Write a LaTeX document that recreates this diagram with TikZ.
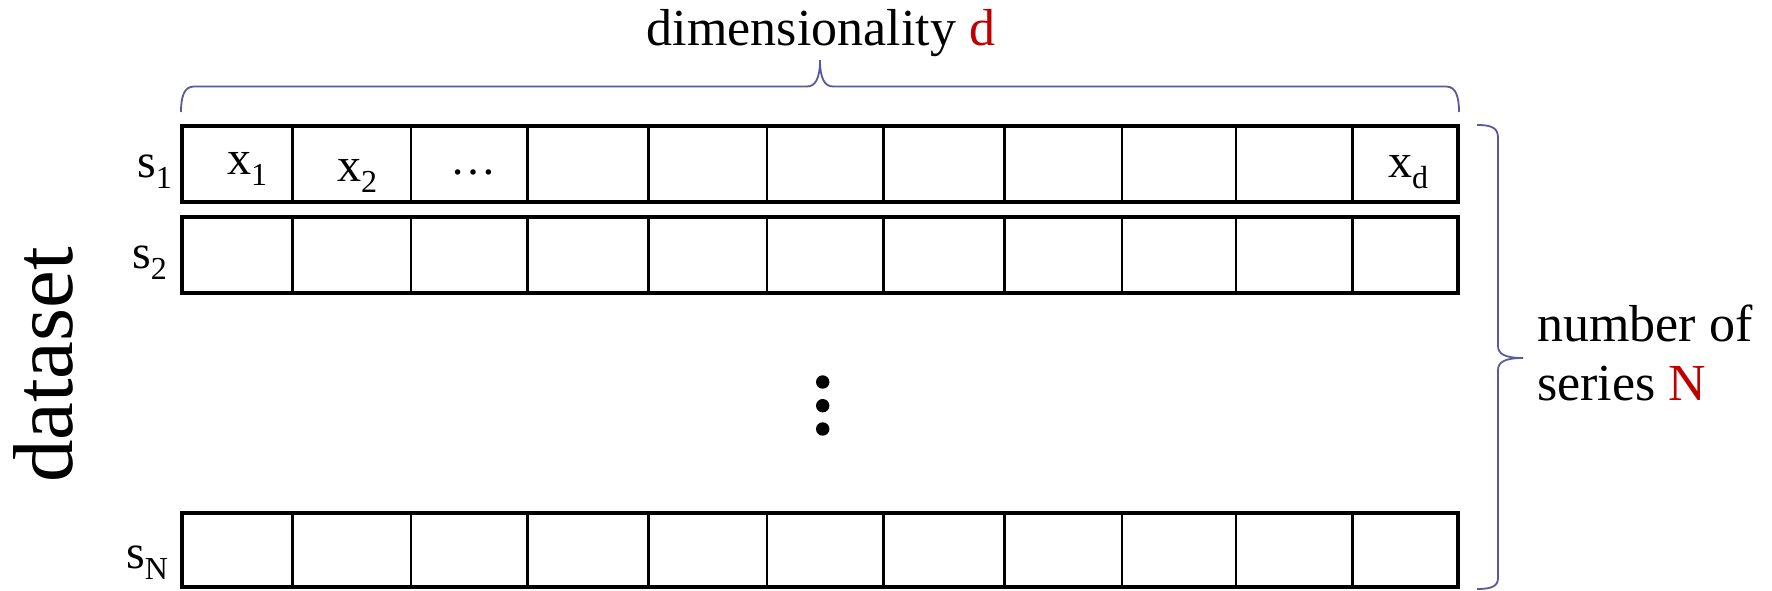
\documentclass[tikz,border=0pt]{standalone}
\usepackage{fontspec}
\setmainfont{Liberation Serif}
\definecolor{bracecol}{RGB}{88,90,155}
\definecolor{darkred}{RGB}{192,0,0}
\newcommand\subsc[1]{\raisebox{-11pt}{\fontsize{32}{32}\selectfont #1}}
\begin{document}
\begin{tikzpicture}[x=1pt,y=-1pt,
  rowbox/.style={draw=black,line width=4pt},
  divider/.style={draw=black,line width=2.6pt},
  bracestyle/.style={draw=bracecol,line width=1.8pt},
  lbl/.style={inner sep=0pt,anchor=base west,font=\fontsize{48}{48}\selectfont},
  big/.style={inner sep=0pt,font=\fontsize{52}{58}\selectfont},
  dotmark/.style={fill=black,draw=none}]
\useasboundingbox (0,0) rectangle (1772,591);
% rows
\foreach \t/\b in {126/202, 217/293, 513/587}{
  \foreach \xx in {292.7,411,527.7,648.7,767,883.7,1004.6,1122,1236,1352.7}{
    \draw[divider] (\xx,\t) -- (\xx,\b);
  }
  \draw[rowbox] (182,\t) rectangle (1458,\b);
}
% row labels
\node[lbl] (s1) at (137,177) {s\subsc{1}};
\node[lbl] (s2) at (132,268) {s\subsc{2}};
\node[lbl] (sN) at (126,568) {s\subsc{N}};
% cell labels
\node[lbl] (x1) at (227,175) {x\subsc{1}};
\node[lbl] (x2) at (337,181.5) {x\subsc{2}};
\node[lbl,anchor=base,font=\fontsize{46}{46}\selectfont] (ell) at (473,174) {…};
\node[lbl] (xd) at (1388,177) {x\subsc{d}};
% vertical dots
\fill[dotmark] (822.7,382) circle (6.7);
\fill[dotmark] (822.7,405.7) circle (6.7);
\fill[dotmark] (822.7,429) circle (6.7);
% top brace
\draw[bracestyle] (181,112) .. controls (181,97) and (184,86.5) .. (194,86.5)
  -- (807,86.5) .. controls (815,86.5) and (820,79) .. (820,60)
  .. controls (820,79) and (825,86.5) .. (833,86.5)
  -- (1446,86.5) .. controls (1456,86.5) and (1459,97) .. (1459,112);
\node[big,anchor=base] (dim) at (821,46) {dimensionality \textcolor{darkred}{d}};
% right brace
\draw[bracestyle] (1477,125) .. controls (1492,125) and (1498,128) .. (1498,138)
  -- (1498,346) .. controls (1498,354) and (1505,358) .. (1523,358)
  .. controls (1505,358) and (1498,362) .. (1498,370)
  -- (1498,578) .. controls (1498,586) and (1492,589) .. (1477,589);
\node[big,anchor=base west] (num) at (1537,341.7) {number of};
\node[big,anchor=base west] (ser) at (1537,400) {series \textcolor{darkred}{N}};
% dataset
\node[inner sep=0pt,rotate=90,anchor=base,font=\fontsize{85}{85}\selectfont] (dataset) at (72,365) {dataset};
\end{tikzpicture}
\end{document}
